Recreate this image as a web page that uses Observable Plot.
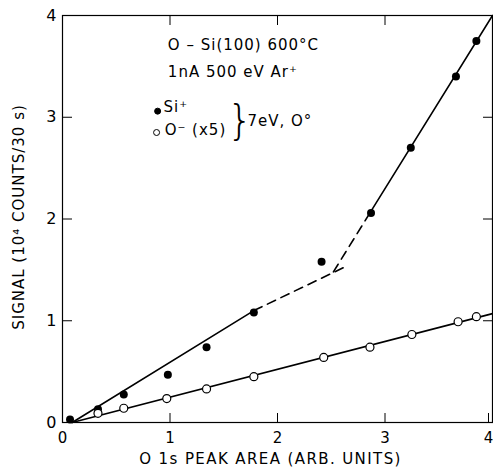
<!DOCTYPE html>
<html>
<head>
<meta charset="utf-8">
<script src="https://cdn.jsdelivr.net/npm/d3@7"></script>
<script src="https://cdn.jsdelivr.net/npm/@observablehq/plot@0.6"></script>
<style>
  html, body { margin: 0; padding: 0; background: #fff; }
  svg { display: block; }
  g.spaced text { letter-spacing: 1px; }
  g.wide text { letter-spacing: 1.4px; }
</style>
</head>
<body>
<div id="chart"></div>
<script>
// Si+ signal (filled circles)
const siX = [0.07, 0.33, 0.57, 0.98, 1.34, 1.78, 2.41, 2.87, 3.24, 3.66, 3.85];
const siY = [0.03, 0.13, 0.275, 0.47, 0.74, 1.08, 1.58, 2.06, 2.70, 3.40, 3.75];
// O- signal x5 (open circles)
const oX = [0.33, 0.57, 0.97, 1.34, 1.78, 2.43, 2.86, 3.25, 3.68, 3.85];
const oY = [0.09, 0.14, 0.235, 0.33, 0.45, 0.64, 0.74, 0.865, 0.99, 1.04];

// Fitted lines
const siLowSolidX = [0.09, 1.78], siLowSolidY = [0.0, 1.10];
const siLowDashX = [1.78, 2.63], siLowDashY = [1.10, 1.53];
const siHighDashX = [2.52, 2.86], siHighDashY = [1.48, 2.06];
const siHighSolidX = [2.86, 4.0], siHighSolidY = [2.06, 4.0];
const oFitX = [0.09, 4.0], oFitY = [0.0, 1.07];

const xTicks = [0, 1, 2, 3, 4];
const yTicks = [0, 1, 2, 3, 4];

// annotations (data units)
const notes = [
  {x: 0.98, y: 3.71, text: "O – Si(100) 600°C"},
  {x: 0.98, y: 3.44, text: "1nA 500 eV Ar⁺"},
  {x: 0.94, y: 3.10, text: "Si⁺"},
  {x: 0.95, y: 2.87, text: "O⁻ (x5)"},
  {x: 1.72, y: 2.96, text: "7eV, O°"}
];
const legendDots = [{x: 0.885, y: 3.06, filled: true}, {x: 0.875, y: 2.85, filled: false}];
const braceAt = [{x: 1.65, y: 2.96, text: "}"}];

const pts = (xs, ys) => xs.map((x, i) => ({x, y: ys[i]}));
const font = "'DejaVu Sans', 'Liberation Sans', Arial, sans-serif";

const chart = Plot.plot({
  width: 493,
  height: 472,
  marginLeft: 62,
  marginRight: 1,
  marginTop: 15,
  marginBottom: 50,
  style: {fontFamily: font, fontSize: "14px", color: "black", background: "white"},
  x: {domain: [0, 4], ticks: xTicks},
  y: {domain: [0, 4], ticks: yTicks},
  marks: [
    Plot.frame({stroke: "black", strokeWidth: 1.2}),
    Plot.axisX(xTicks.slice(0, 4), {anchor: "bottom", tickSize: -9, tickPadding: 19, fontSize: 15, label: null, tickFormat: d => String(d)}),
    Plot.axisX(xTicks.slice(4), {anchor: "bottom", tickSize: -9, tickPadding: 19, fontSize: 15, label: null, dx: -4, tickFormat: d => String(d)}),
    Plot.axisX(xTicks.slice(1, 4), {anchor: "top", tickSize: -9, tickFormat: () => "", label: null}),
    Plot.axisY(yTicks, {anchor: "left", tickSize: -10, tickPadding: 16, fontSize: 16, label: null, tickFormat: d => String(d)}),
    Plot.axisY(yTicks.slice(1, 4), {anchor: "right", tickSize: -10, tickFormat: () => "", label: null}),
    Plot.line(pts(siLowSolidX, siLowSolidY), {x: "x", y: "y", stroke: "black", strokeWidth: 1.6}),
    Plot.line(pts(siLowDashX, siLowDashY), {x: "x", y: "y", stroke: "black", strokeWidth: 1.6, strokeDasharray: "9,6"}),
    Plot.line(pts(siHighDashX, siHighDashY), {x: "x", y: "y", stroke: "black", strokeWidth: 1.6, strokeDasharray: "9,6"}),
    Plot.line(pts(siHighSolidX, siHighSolidY), {x: "x", y: "y", stroke: "black", strokeWidth: 1.6}),
    Plot.line(pts(oFitX, oFitY), {x: "x", y: "y", stroke: "black", strokeWidth: 1.6}),
    Plot.dot(pts(siX, siY), {x: "x", y: "y", r: 4, fill: "black", stroke: "none"}),
    Plot.dot(pts(oX, oY), {x: "x", y: "y", r: 4, fill: "white", stroke: "black", strokeWidth: 1.2}),
    Plot.dot(legendDots, {x: "x", y: "y", r: 3, fill: d => d.filled ? "black" : "white", stroke: "black", strokeWidth: 1}),
    Plot.text(notes, {x: "x", y: "y", text: "text", textAnchor: "start", fontSize: 15, fill: "black", className: "spaced"}),
    Plot.text(braceAt, {x: "x", y: "y", text: "text", fontSize: 40, fontWeight: 200, fontFamily: "'DejaVu Sans ExtraLight', 'DejaVu Sans'", fill: "black"}),
    Plot.text(["O 1s PEAK AREA (ARB. UNITS)"], {frameAnchor: "bottom", dy: 41, dx: -7, text: d => d, fontSize: 15, fill: "black", textAnchor: "middle", className: "wide"}),
    Plot.text(["SIGNAL (10⁴ COUNTS/30 s)"], {frameAnchor: "left", dx: -43, dy: -2, text: d => d, rotate: -90, textAnchor: "middle", fontSize: 15, fill: "black", className: "spaced"})
  ]
});
document.getElementById("chart").appendChild(chart);
</script>
</body>
</html>
